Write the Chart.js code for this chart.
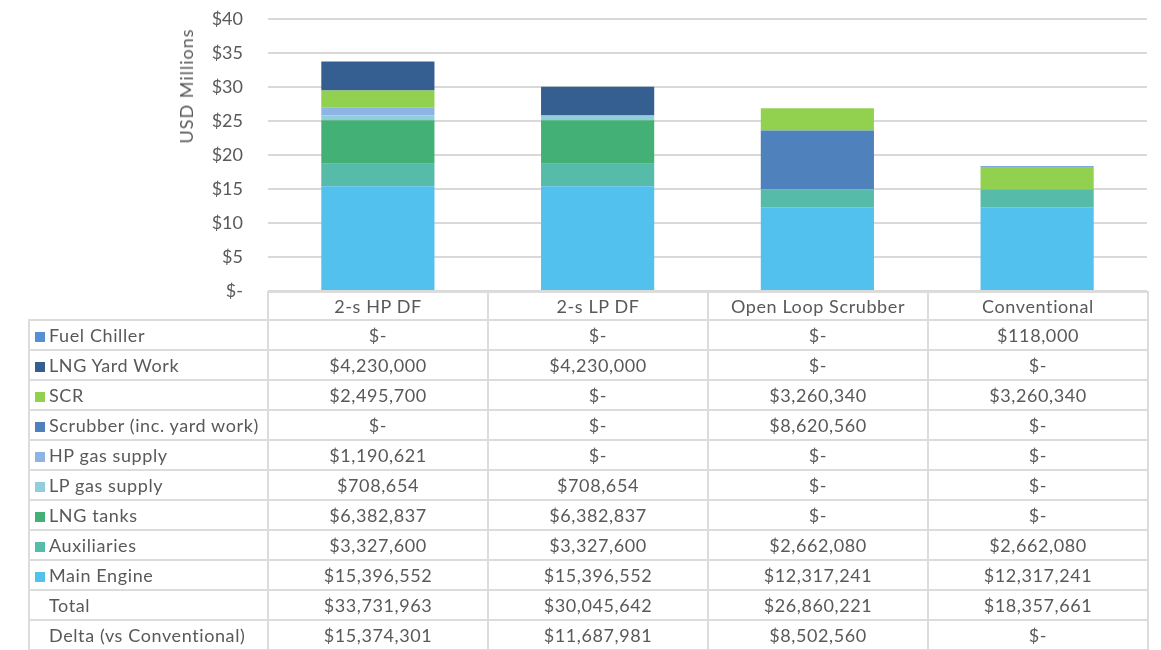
<!DOCTYPE html>
<html>
<head>
<meta charset="utf-8">
<script src="https://cdn.jsdelivr.net/npm/chart.js@4"></script>
<style>
  body { margin: 0; background: #fff; }
  #wrap { position: relative; width: 1161px; height: 650px; overflow: hidden; font-family: 'Lato', sans-serif; color: #595959; }
  #chart { position: absolute; left: 0; top: 0; }
  #ytitle { position: absolute; left: 186px; top: 86px; transform: translate(-50%, -50%) rotate(-90deg); font-size: 18px; letter-spacing: 1px; white-space: nowrap; }
  #costTable { position: absolute; left: 28px; top: 291px; border-collapse: collapse; table-layout: fixed; font-size: 18px; letter-spacing: 0.6px; }
  #costTable td { border: 2px solid #dcdcdc; padding: 0; text-align: center; white-space: nowrap; }
  #costTable td.blank { border: none; }
  #costTable td.label { text-align: left; padding-left: 5px; }
  #costTable tr { height: 30px; }
  #costTable tr.head { height: 28px; }
  .swatch { display: inline-block; width: 10px; height: 10px; margin-right: 4px; vertical-align: 0px; }
  .noswatch { display: inline-block; width: 14px; }
</style>
</head>
<body>
<div id="wrap">
  <canvas id="chart" width="1161" height="650"></canvas>
  <div id="ytitle">USD Millions</div>
  <table id="costTable"></table>
</div>
<script>
// Categories and series (USD), in table order top to bottom
const categories = ['2-s HP DF', '2-s LP DF', 'Open Loop Scrubber', 'Conventional'];
const fuelChiller = [0, 0, 0, 118000];
const lngYardWork = [4230000, 4230000, 0, 0];
const scr = [2495700, 0, 3260340, 3260340];
const scrubber = [0, 0, 8620560, 0];
const hpGasSupply = [1190621, 0, 0, 0];
const lpGasSupply = [708654, 708654, 0, 0];
const lngTanks = [6382837, 6382837, 0, 0];
const auxiliaries = [3327600, 3327600, 2662080, 2662080];
const mainEngine = [15396552, 15396552, 12317241, 12317241];
const totals = [33731963, 30045642, 26860221, 18357661];
const deltas = [15374301, 11687981, 8502560, 0];
const yTicks = [0, 5, 10, 15, 20, 25, 30, 35, 40];

const series = [
    { name: 'Fuel Chiller', data: fuelChiller, color: '#558ed5' },
    { name: 'LNG Yard Work', data: lngYardWork, color: '#355f91' },
    { name: 'SCR', data: scr, color: '#92d050' },
    { name: 'Scrubber (inc. yard work)', data: scrubber, color: '#4f81bd' },
    { name: 'HP gas supply', data: hpGasSupply, color: '#8eb4e3' },
    { name: 'LP gas supply', data: lpGasSupply, color: '#92cddc' },
    { name: 'LNG tanks', data: lngTanks, color: '#43b076' },
    { name: 'Auxiliaries', data: auxiliaries, color: '#56bba9' },
    { name: 'Main Engine', data: mainEngine, color: '#52c1ee' }
];

function fmt(v) {
    return v === 0 ? '$-' : '$' + v.toLocaleString('en-US');
}

// Build the data table under the chart
function buildTable() {
    const table = document.getElementById('costTable');
    let html = '<colgroup><col style="width:239px">';
    categories.forEach(() => { html += '<col style="width:220px">'; });
    html += '</colgroup>';
    html += '<tr class="head"><td class="blank"></td>';
    categories.forEach(c => { html += '<td>' + c + '</td>'; });
    html += '</tr>';
    series.forEach(s => {
        html += '<tr><td class="label"><span class="swatch" style="background:' + s.color + '"></span>' + s.name + '</td>';
        s.data.forEach(v => { html += '<td>' + fmt(v) + '</td>'; });
        html += '</tr>';
    });
    [['Total', totals], ['Delta (vs Conventional)', deltas]].forEach(([name, arr]) => {
        html += '<tr><td class="label"><span class="noswatch"></span>' + name + '</td>';
        arr.forEach(v => { html += '<td>' + fmt(v) + '</td>'; });
        html += '</tr>';
    });
    table.innerHTML = html;
}

function initCostChart() {
    const ctx = document.getElementById('chart').getContext('2d');
    const datasets = series.slice().reverse().map(s => ({
        label: s.name,
        data: s.data.map(v => v / 1e6),
        backgroundColor: s.color,
        borderWidth: 0,
        categoryPercentage: 1,
        barPercentage: 0.515
    }));
    new Chart(ctx, {
        type: 'bar',
        data: { labels: categories, datasets: datasets },
        options: {
            responsive: false,
            animation: false,
            layout: { padding: { top: 19, right: 14, bottom: 359, left: 0 } },
            plugins: { legend: { display: false }, tooltip: { enabled: false } },
            scales: {
                x: { stacked: true, display: false },
                y: {
                    stacked: true,
                    min: 0,
                    max: 40,
                    afterBuildTicks: scale => { scale.ticks = yTicks.map(v => ({ value: v })); },
                    afterFit: scale => { scale.width = 268; },
                    border: { display: false },
                    grid: { color: '#d9d9d9', lineWidth: 2, drawTicks: true, tickLength: 22, tickColor: 'rgba(0,0,0,0)' },
                    ticks: {
                        padding: 3,
                        color: '#595959',
                        font: { family: 'Lato', size: 18 },
                        callback: v => v === 0 ? '$-' : '$' + v
                    }
                }
            }
        }
    });
}

buildTable();
initCostChart();
</script>
</body>
</html>
